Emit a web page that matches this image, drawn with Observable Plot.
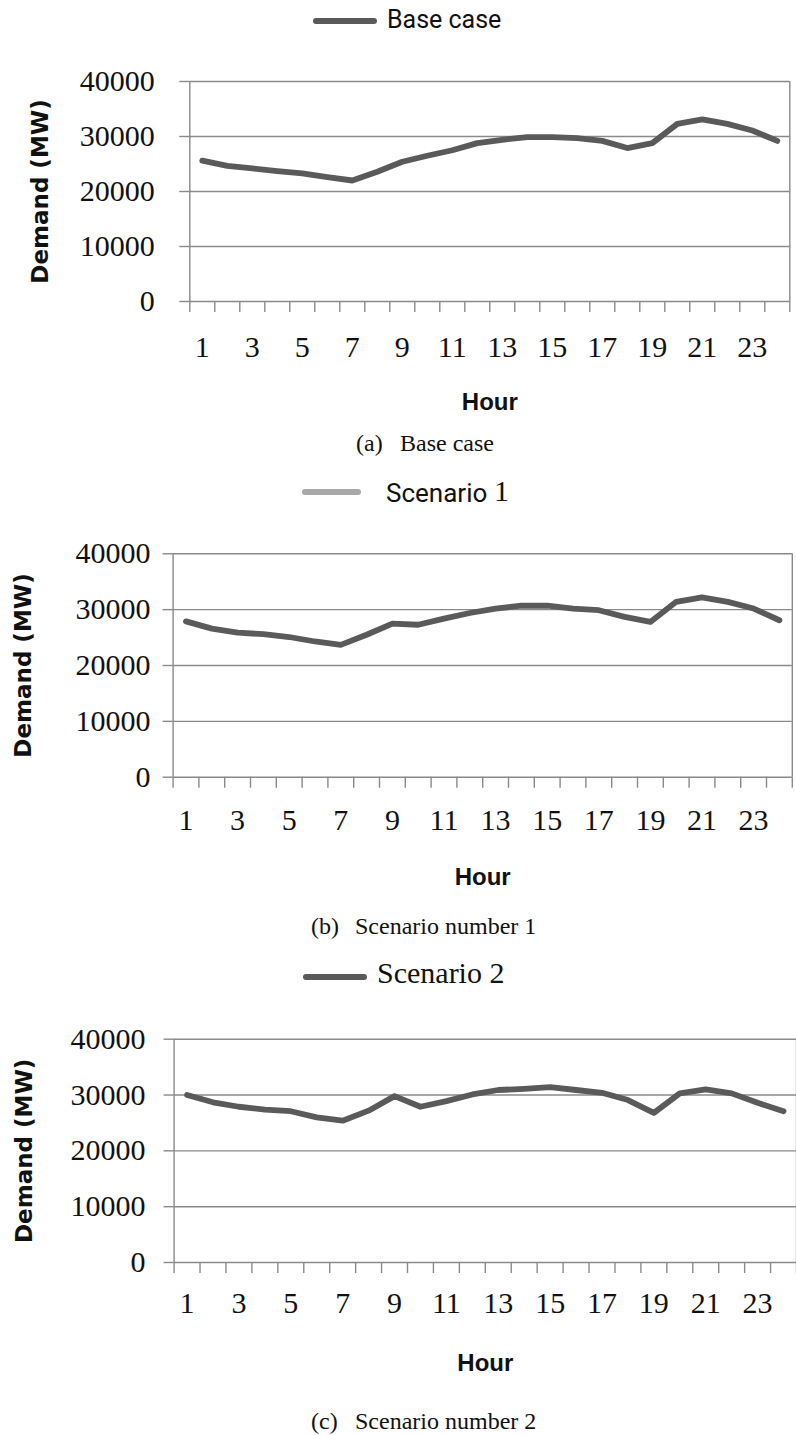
<!DOCTYPE html>
<html>
<head>
<meta charset="utf-8">
<script src="https://cdn.jsdelivr.net/npm/d3@7"></script>
<script src="https://cdn.jsdelivr.net/npm/@observablehq/plot@0.6"></script>
<style>
  html, body { margin: 0; padding: 0; background: #fff; }
  #page { position: relative; width: 796px; height: 1435px; overflow: hidden; background: #fff; }
  .abs { position: absolute; white-space: nowrap; color: #111; }
  .swatch { position: absolute; border-radius: 3px; }
  svg { position: absolute; left: 0; }
</style>
</head>
<body>
<div id="page"></div>
<script>
// ---------- data ----------
const hours = [1, 2, 3, 4, 5, 6, 7, 8, 9, 10, 11, 12, 13, 14, 15, 16, 17, 18, 19, 20, 21, 22, 23, 24];
const hourLabels = [1, 3, 5, 7, 9, 11, 13, 15, 17, 19, 21, 23];
const yTicks = [0, 10000, 20000, 30000, 40000];
const baseCase = [25600, 24650, 24200, 23700, 23300, 22600, 22000, 23600, 25400, 26500, 27500, 28800,
                  29400, 29900, 29900, 29700, 29200, 27900, 28800, 32300, 33100, 32300, 31100, 29200];
const scenario1 = [27900, 26600, 25900, 25600, 25100, 24300, 23700, 25500, 27500, 27300, 28400, 29400,
                   30200, 30700, 30700, 30200, 29900, 28700, 27800, 31400, 32200, 31400, 30200, 28100];
const scenario2 = [30000, 28700, 27900, 27400, 27100, 26000, 25400, 27200, 29800, 27900, 28900, 30100,
                   30900, 31100, 31400, 30900, 30400, 29100, 26800, 30300, 31000, 30300, 28600, 27100];
const yTitle = "Demand (MW)";
const xTitle = "Hour";

// ---------- styles ----------
const serif = "'Liberation Serif', 'Times New Roman', serif";
const sans = "Roboto, 'Liberation Sans', sans-serif";
const gridColor = "#8a8a8a";
const lineColor = "#5a5a5a";
const bounds = hours.map(h => h - 0.5).concat([24.5]);

const page = document.getElementById("page");

function panel(values, cfg) {
  const data = hours.map((h, i) => ({hour: h, demand: values[i]}));
  const svg = Plot.plot({
    width: 796,
    height: cfg.height,
    marginTop: cfg.mt,
    marginBottom: cfg.mb,
    marginLeft: cfg.ml,
    marginRight: cfg.mr,
    style: {background: "transparent", overflow: "visible"},
    x: {domain: [0.5, 24.5]},
    y: {domain: [0, 40000]},
    marks: [
      Plot.gridY(yTicks, {stroke: gridColor, strokeOpacity: 1, strokeWidth: 1.4}),
      Plot.ruleX([0.5, 24.5], {stroke: gridColor, strokeWidth: 1.4}),
      Plot.axisY(yTicks, {tickSize: 10, tickPadding: cfg.yPad, stroke: gridColor, strokeWidth: 1.4,
        fontSize: 30, fontFamily: serif, fill: "#111", tickFormat: d => String(d), label: null}),
      Plot.axisX(bounds, {tickSize: 11, stroke: gridColor, strokeWidth: 1.4, tickFormat: () => "", label: null}),
      Plot.axisX(hourLabels, {tickSize: 0, tickPadding: cfg.xPad, fontSize: 30, fontFamily: serif,
        fill: "#111", tickFormat: d => String(d), label: null}),
      Plot.line(data, {x: "hour", y: "demand", stroke: lineColor, strokeWidth: 5.8,
        strokeLinejoin: "round", strokeLinecap: "round"}),
      Plot.text([yTitle], {text: d => d, frameAnchor: "left", textAnchor: "middle", rotate: -90, dx: cfg.titleX - cfg.ml,
        fontFamily: "'DejaVu Sans', sans-serif", fontWeight: "bold", fontSize: 23, fill: "#111"}),
      Plot.text([xTitle], {text: d => d, frameAnchor: "bottom", dy: 108,
        fontFamily: "'Liberation Sans', Arial, sans-serif", fontWeight: "bold", fontSize: 24, fill: "#111"})
    ]
  });
  svg.style.top = cfg.top + "px";
  page.appendChild(svg);
}

function text(str, left, baseline, size, family, ascent) {
  const d = document.createElement("div");
  d.className = "abs";
  d.textContent = str;
  d.style.left = left + "px";
  d.style.fontSize = size + "px";
  d.style.lineHeight = size + "px";
  d.style.fontFamily = family;
  d.style.top = (baseline - ascent * size) + "px";
  page.appendChild(d);
  return d;
}
function swatch(x1, x2, y, color) {
  const s = document.createElement("div");
  s.className = "swatch";
  s.style.left = x1 + "px";
  s.style.width = (x2 - x1) + "px";
  s.style.top = (y - 3) + "px";
  s.style.height = "6px";
  s.style.background = color;
  page.appendChild(s);
}
const RA = 0.842, SA = 0.8375;

// Panel (a)
swatch(313, 377, 20.7, lineColor);
text("Base case", 387, 28, 25, sans, RA);
panel(baseCase, {top: 60, height: 370, mt: 21, mb: 129, ml: 189.3, mr: 6.7, yPad: 25, xPad: 34.5, titleX: 40});
text("(a)", 356, 451, 24, serif, SA);
text("Base case", 400, 451, 24, serif, SA);

// Panel (b)
swatch(302, 361, 492, "#a8a8a8");
text("Scenario", 386, 501.5, 26, sans, RA);
text("1", 494, 501.5, 30, serif, SA);
panel(scenario1, {top: 530, height: 380, mt: 23.3, mb: 133.3, ml: 172.6, mr: 4.2, yPad: 12.6, xPad: 31.5, titleX: 23});
text("(b)", 311, 934, 24, serif, SA);
text("Scenario number 1", 355, 934, 24, serif, SA);

// Panel (c)
swatch(303, 367, 977, lineColor);
text("Scenario 2", 377, 983, 30, serif, SA);
panel(scenario2, {top: 1015, height: 380, mt: 23.7, mb: 133, ml: 173.6, mr: 0, yPad: 18.6, xPad: 29.5, titleX: 24});
text("(c)", 311, 1429, 24, serif, SA);
text("Scenario number 2", 355, 1429, 24, serif, SA);
</script>
</body>
</html>
